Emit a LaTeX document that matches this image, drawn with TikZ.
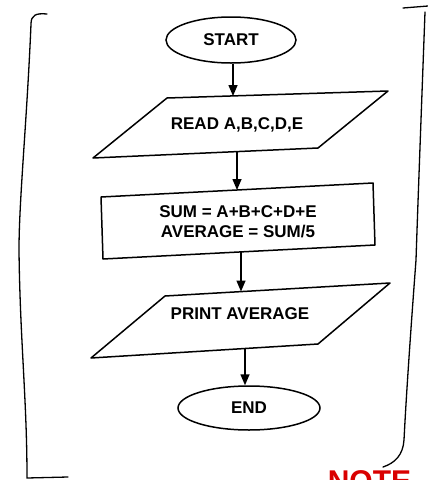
\documentclass[tikz,border=0pt]{standalone}
\usepackage{fontspec}
\setmainfont{Liberation Sans}
\usetikzlibrary{shapes.geometric,arrows.meta}
\begin{document}
\begin{tikzpicture}[x=1pt,y=-1pt,
  line width=1.5pt,
  lbl/.style={font=\bfseries\fontsize{17}{20}\selectfont, align=center},
  terminal/.style={ellipse, draw, lbl, inner sep=0pt},
  boxtext/.style={lbl, inner sep=0pt},
  outline/.style={line join=round},
  arr/.style={-{Triangle[width=9pt,length=11pt]}},
  frame/.style={line width=1.3pt, line cap=round}]
\useasboundingbox (0,0) rectangle (428,480);
\begin{scope}
\clip (0,0) rectangle (428,480);

% hand-drawn frame
\draw[frame] (47,14) .. controls (36,13) and (31,15) .. (31,24)
   .. controls (27,120) and (19,200) .. (19,250)
   .. controls (20,340) and (27,400) .. (27,478) -- (68,477);
\draw[frame] (403,8) -- (428,6);
\draw[frame] (425,12) .. controls (421,120) and (418,200) .. (416,260)
   .. controls (410,340) and (406,400) .. (404,440)
   .. controls (403,455) and (395,463) .. (383,467);

% terminals
\node[terminal, minimum width=130pt, minimum height=46pt] (start) at (231,40) {START};
\node[terminal, minimum width=142pt, minimum height=44pt] (end) at (249,408) {END};

% input: slanted parallelogram
\node[boxtext] (read) at (237,125) {READ A,B,C,D,E};
\draw[outline] (167,98) -- (388,91) -- (318,148) -- (93,158) -- cycle;
\coordinate (read-in) at (233,96);
\coordinate (read-out) at (237,152);

% process box, slightly tilted
\node[boxtext] (calc) at (238,222) {SUM = A+B+C+D+E\\AVERAGE = SUM/5};
\draw[outline] (101,197) -- (373,183) -- (375,245) -- (103,259) -- cycle;
\coordinate (calc-in) at (237,190);
\coordinate (calc-out) at (241,252);

% output: slanted parallelogram
\node[boxtext] (print) at (240,314) {PRINT AVERAGE};
\draw[outline] (165,296) -- (390,283) -- (318,344) -- (91,358) -- cycle;
\coordinate (print-in) at (241,291.5);
\coordinate (print-out) at (245,348.5);

% connectors
\draw[arr] (start.south -| read-in) -- (read-in);
\draw[arr] (read-out) -- (calc-in);
\draw[arr] (calc-out) -- (print-in);
\draw[arr] (print-out) -- (print-out |- end.north);

% stamp at the lower edge
\node[anchor=north west, text=red!85!black, font=\bfseries\fontsize{30}{30}\selectfont,
      inner sep=0pt] (stamp) at (327,470) {NOTE};
\end{scope}
\end{tikzpicture}
\end{document}
